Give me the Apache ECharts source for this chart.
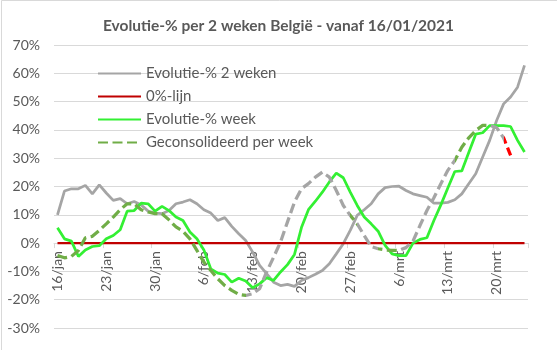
<!DOCTYPE html>
<html>
<head>
<meta charset="utf-8">
<script src="https://cdn.jsdelivr.net/npm/echarts@6/dist/echarts.min.js"></script>
<style>
  html, body { margin: 0; padding: 0; background: #fff; }
  #chart { width: 557px; height: 350px; }
</style>
</head>
<body>
<div id="chart"></div>
<script>
// Daily categories, 16 January to 24 March 2021
const categories = [
  '16/jan','17/jan','18/jan','19/jan','20/jan','21/jan','22/jan','23/jan','24/jan','25/jan',
  '26/jan','27/jan','28/jan','29/jan','30/jan','31/jan','1/feb','2/feb','3/feb','4/feb',
  '5/feb','6/feb','7/feb','8/feb','9/feb','10/feb','11/feb','12/feb','13/feb','14/feb',
  '15/feb','16/feb','17/feb','18/feb','19/feb','20/feb','21/feb','22/feb','23/feb','24/feb',
  '25/feb','26/feb','27/feb','28/feb','1/mrt','2/mrt','3/mrt','4/mrt','5/mrt','6/mrt',
  '7/mrt','8/mrt','9/mrt','10/mrt','11/mrt','12/mrt','13/mrt','14/mrt','15/mrt','16/mrt',
  '17/mrt','18/mrt','19/mrt','20/mrt','21/mrt','22/mrt','23/mrt','24/mrt'
];

// Evolutie-% 2 weken
const evolutie2Weken = [
  10, 18.4, 19.2, 19.2, 20.4, 17.4, 20.6, 17.7, 15.1, 15.7,
  13.9, 14.7, 13.5, 11.3, 10.6, 10.4, 11.5, 13.9, 14.5, 15.3,
  13.9, 11.8, 10.6, 8, 9, 5.9, 3.3, 0.9, -3.2, -7.9,
  -10.8, -13.8, -15, -14.6, -15.3, -13.2, -12.2, -11, -9.7, -7.3,
  -3.8, -0.2, 4.5, 9.8, 11.8, 13.9, 17.4, 19.6, 20, 20.1,
  18.6, 17.4, 16.8, 16.2, 14.1, 14.1, 14.4, 15.3, 17.4, 21,
  24.5, 30.4, 36.3, 43.3, 49.2, 51.6, 55.1, 62.8
];

// 0%-lijn
const nulLijn = categories.map(() => 0);

// Evolutie-% week
const evolutieWeek = [
  5.4, 1.5, 0.7, -4.7, -2.4, -1.2, -0.9, 1.5, 2.7, 4.7,
  11.3, 11.5, 14.1, 13.9, 11.3, 13, 11.5, 9.2, 8, 3.9,
  1.5, -2.4, -9.1, -10.6, -11.1, -13.8, -12.4, -13.4, -15.8, -14.4,
  -12.2, -13.2, -10.2, -7.6, -4, 5.5, 11.8, 14.8, 18, 21.6,
  24.7, 23.1, 18, 13.3, 9.2, 6.8, 4.2, -0.8, -3.8, -4.4,
  -4.4, 0, 1.3, 1.9, 8, 13.5, 19.5, 25.3, 25.5, 32,
  38.5, 39, 41.5, 41.5, 41.5, 41.2, 36.3, 32.2
];

// Geconsolideerd per week
const geconsolideerd = [
  -4.4, -5.2, -4.7, -2.6, 1.9, 2.4, 4.5, 6.8, 9.2, 11.8,
  13.9, 13.9, 11.8, 11, 10.4, 10.4, 8.2, 5.7, 4.2, 1.5,
  -2.6, -6.7, -9.7, -12.6, -15, -16.7, -18.1, -18.5, -17.9, -16.1,
  -10.2, -5, 0.4, 7.5, 14.5, 19.2, 21, 23.3, 25.1, 23.3,
  18.6, 13.3, 9.8, 6.8, 2.7, -1.2, -2, -2.4, -2.6, -2.6,
  -1.6, 0.7, 6.2, 11.5, 16, 21, 25.7, 29.2, 33.9, 37.2,
  39.8, 41.6, 41.6, 40.8, 37.2, 31, null, null
];

const C_GRAY = '#a5a5a5';
const C_DARKRED = '#c00000';
const C_LIME = '#33f033';
const C_OLIVE = '#70ad47';
const C_RED = '#ff0000';
const TXT = '#595959';
const FONT = 'Lato, "Liberation Sans", sans-serif';

// colour of the dashed line, per stretch of days
const segmentColours = [
  { gte: 0, lt: 27, color: C_OLIVE },
  { gte: 27, lt: 42, color: C_GRAY },
  { gte: 42, lt: 43, color: C_OLIVE },
  { gte: 43, lt: 46, color: C_GRAY },
  { gte: 46, lt: 49, color: C_OLIVE },
  { gte: 49, lt: 57, color: C_GRAY },
  { gte: 57, lt: 62, color: C_OLIVE },
  { gte: 62, lt: 64, color: C_GRAY },
  { gte: 64, lte: 67, color: C_RED }
];

const GRID_TOP = 45, GRID_BOTTOM = 22, CHART_H = 350;
const Y_MIN = -30, Y_MAX = 70;
// shift the category axis up so it runs along the 0% level
const plotH = CHART_H - GRID_TOP - GRID_BOTTOM;
const zeroOffset = -plotH * (0 - Y_MIN) / (Y_MAX - Y_MIN);

const chart = echarts.init(document.getElementById('chart'), null, { renderer: 'canvas' });

chart.setOption({
  animation: false,
  backgroundColor: '#ffffff',
  textStyle: { fontFamily: FONT },
  graphic: [{
    type: 'rect',
    shape: { x: 1.5, y: 0.5, width: 600, height: 400 },
    style: { fill: 'none', stroke: '#d9d9d9', lineWidth: 1 },
    silent: true
  }],
  title: {
    text: 'Evolutie-% per 2 weken België - vanaf 16/01/2021',
    left: 'center',
    top: 13,
    textStyle: { fontFamily: FONT, fontSize: 15.5, fontWeight: 'bold', color: TXT }
  },
  legend: {
    orient: 'vertical',
    left: 92,
    top: 61,
    itemWidth: 43,
    itemHeight: 14,
    itemGap: 8,
    itemStyle: { opacity: 0 },
    textStyle: { fontFamily: FONT, fontSize: 15, color: TXT },
    data: [
      { name: 'Evolutie-% 2 weken' },
      { name: '0%-lijn' },
      { name: 'Evolutie-% week' },
      { name: 'Geconsolideerd per week', lineStyle: { color: C_OLIVE } }
    ]
  },
  grid: { left: 54, right: 29, top: GRID_TOP, bottom: GRID_BOTTOM },
  xAxis: {
    type: 'category',
    data: categories,
    boundaryGap: true,
    position: 'bottom',
    offset: zeroOffset,
    axisLine: { onZero: false, lineStyle: { color: '#d9d9d9' } },
    axisTick: { show: true, interval: 6, length: 5, lineStyle: { color: '#d9d9d9' } },
    axisLabel: { interval: 6, rotate: 90, margin: 8, fontFamily: FONT, fontSize: 14, color: TXT },
    splitLine: { show: false }
  },
  yAxis: {
    type: 'value',
    min: Y_MIN,
    max: Y_MAX,
    interval: 10,
    axisLine: { show: false },
    axisTick: { show: false },
    axisLabel: { formatter: '{value}%', margin: 14, fontFamily: FONT, fontSize: 14, color: TXT },
    splitLine: { lineStyle: { color: '#d9d9d9', width: 1 } }
  },
  visualMap: [{
    type: 'piecewise',
    show: false,
    seriesIndex: 3,
    dimension: 0,
    pieces: segmentColours
  }],
  series: [
    {
      name: 'Evolutie-% 2 weken', type: 'line', data: evolutie2Weken,
      symbol: 'none', lineStyle: { color: C_GRAY, width: 2.75 }, itemStyle: { color: C_GRAY }
    },
    {
      name: '0%-lijn', type: 'line', data: nulLijn,
      symbol: 'none', lineStyle: { color: C_DARKRED, width: 2.25 }, itemStyle: { color: C_DARKRED }
    },
    {
      name: 'Evolutie-% week', type: 'line', data: evolutieWeek,
      symbol: 'none', lineStyle: { color: C_LIME, width: 2.75 }, itemStyle: { color: C_LIME }
    },
    {
      name: 'Geconsolideerd per week', type: 'line', data: geconsolideerd,
      symbol: 'none', connectNulls: false,
      lineStyle: { width: 3.25, type: [10, 4.5] }
    }
  ]
});
</script>
</body>
</html>
